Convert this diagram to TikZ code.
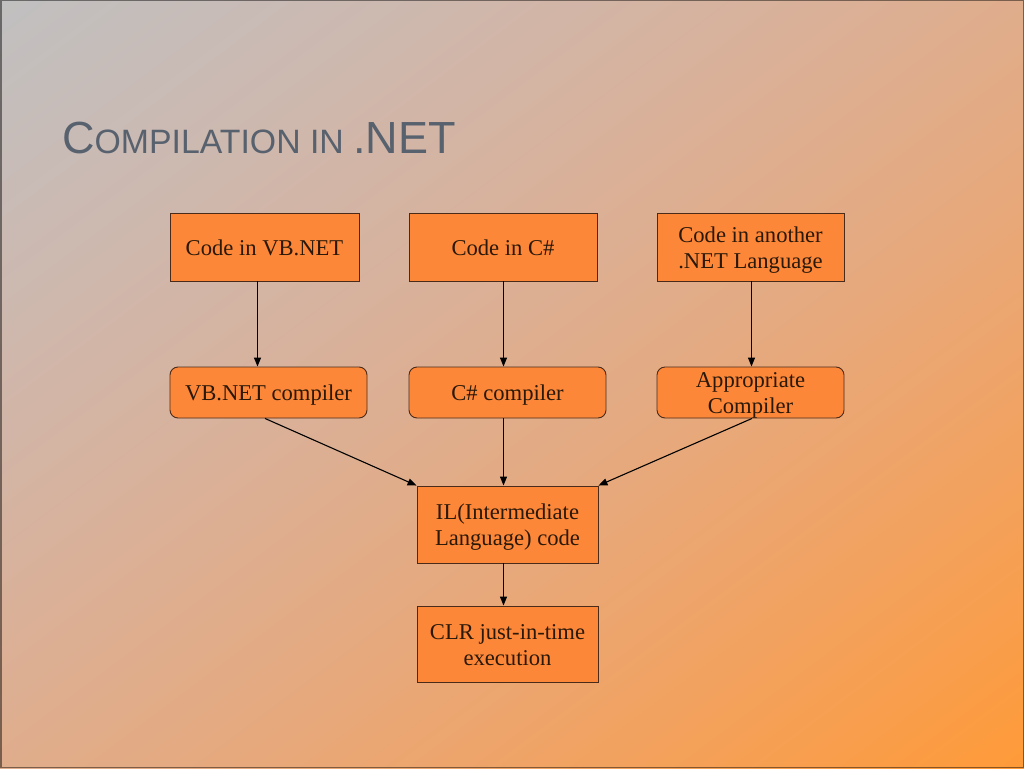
\documentclass[tikz,border=0pt]{standalone}
\usepackage{fontspec}
\setmainfont{Liberation Serif}
\newfontfamily\titlefont{Liberation Sans}
\usetikzlibrary{arrows.meta,calc}
\definecolor{boxfill}{HTML}{FD8739}
\definecolor{boxline}{HTML}{4A2A18}
\definecolor{boxtext}{HTML}{2A1808}
\definecolor{titlecol}{HTML}{58616E}
\pgfdeclarefunctionalshading{bgdiag}{\pgfpoint{0bp}{0bp}}{\pgfpoint{100bp}{100bp}}{}{
  sub 100 div 0.5 add
  dup 0 lt {pop 0} if dup 1 gt {pop 1} if
  dup 0.247 mul 0.753 add exch
  dup -0.149 mul 0.753 add exch
  dup 0.251 mul 0.282 add mul neg 0.753 add
}
\tikzset{
  codebox/.style={draw=boxline, line width=0.9pt, fill=boxfill, text=boxtext,
    font=\fontsize{22.6}{26}\selectfont, align=center, inner sep=0pt, anchor=center,
    text height=20pt, text depth=4pt},
  twolines/.style={text height=46pt, text depth=4pt},
  compbox/.style={codebox, rounded corners=8pt},
  flow/.style={draw=black, line width=1.1pt, -{Triangle[length=9pt,width=7pt]}}
}
\begin{document}
\begin{tikzpicture}[x=1pt,y=-1pt]
\useasboundingbox (0,0) rectangle (1024,768);
\shade[shading=bgdiag] (0,0) rectangle (1024,768);
\draw[black, opacity=0.45, line width=1.5pt] (0.75,0.75) rectangle (1023.25,767.25);
\node[anchor=base west, inner sep=0pt, text=titlecol] (title) at (62,153)
  {\titlefont\fontsize{45}{50}\selectfont C\fontsize{33.8}{40}\selectfont OMPILATION IN \fontsize{45}{50}\selectfont.NET};
% top row
\node[codebox, minimum width=189pt, minimum height=68pt] (b1) at (264.5,247) {Code in VB.NET};
\node[codebox, minimum width=188pt, minimum height=68pt] (b2) at (503,247) {Code in C\#};
\node[codebox, twolines, minimum width=187pt, minimum height=68pt] (b3) at (750.5,247) {Code in another\\.NET Language};
% compilers
\node[compbox, minimum width=197pt, minimum height=51pt] (c1) at (268.5,392.5) {VB.NET compiler};
\node[compbox, minimum width=197pt, minimum height=51pt] (c2) at (507.5,392.5) {C\# compiler};
\node[compbox, twolines, minimum width=187pt, minimum height=51pt] (c3) at (750.5,392.5) {Appropriate\\Compiler};
% IL and CLR
\node[codebox, twolines, minimum width=181pt, minimum height=77pt] (il) at (507.5,524.5) {IL(Intermediate\\Language) code};
\node[codebox, twolines, minimum width=181pt, minimum height=76pt] (clr) at (507.5,644) {CLR just-in-time\\execution};
% arrows
\draw[flow] ($(b1.south)+(-7,0)$) -- ($(c1.north)+(-11,0)$);
\draw[flow] ($(b2.south)+(0.5,0)$) -- ($(c2.north)+(-4,0)$);
\draw[flow] ($(b3.south)+(1,0)$) -- ($(c3.north)+(1,0)$);
\draw[flow] ($(c1.south)+(-3.5,0)$) -- (il.north west);
\draw[flow] ($(c2.south)+(-4,0)$) -- ($(il.north)+(-4,0)$);
\draw[flow] ($(c3.south)+(1.5,0)$) -- (il.north east);
\draw[flow] ($(il.south)+(-4,0)$) -- ($(clr.north)+(-4,0)$);
\end{tikzpicture}
\end{document}
